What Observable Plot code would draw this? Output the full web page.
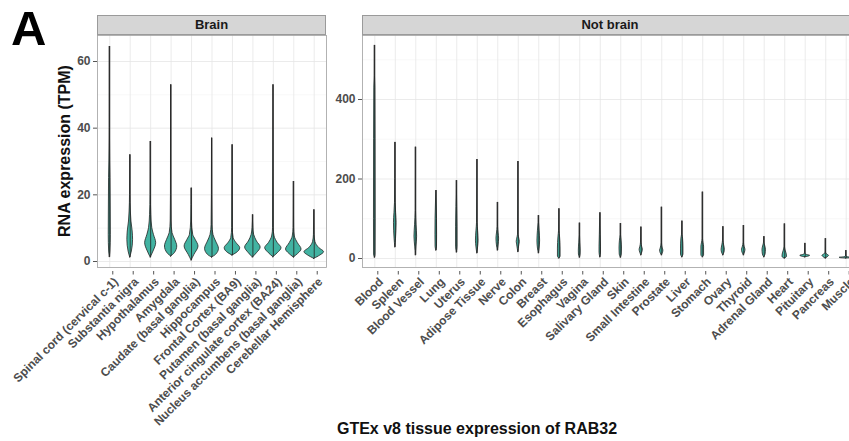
<!DOCTYPE html>
<html>
<head>
<meta charset="utf-8">
<script src="https://cdn.jsdelivr.net/npm/d3@7"></script>
<script src="https://cdn.jsdelivr.net/npm/@observablehq/plot@0.6"></script>
<style>
  html, body { margin: 0; padding: 0; background: #fff; overflow: hidden; }
  #wrap { position: relative; width: 849px; height: 441px; overflow: hidden; font-family: "Liberation Sans", Arial, sans-serif; }
  .abs { position: absolute; line-height: 1; }
  .strip { box-sizing: border-box; height: 20px; background: #d6d6d6; border: 0.8px solid #9a9a9a; font-weight: bold; font-size: 13px; color: #1a1a1a; text-align: center; line-height: 18px; }
  #letter { left: 11px; top: 4px; font-size: 49px; font-weight: bold; color: #000; }
  #ytitle { left: 65px; top: 151px; transform: translate(-50%, -50%) rotate(-90deg); white-space: nowrap; font-size: 16px; font-weight: bold; color: #111; }
  #caption { left: 477px; top: 421px; transform: translateX(-50%); white-space: nowrap; font-size: 16px; font-weight: bold; color: #111; }
  svg text { font-family: "Liberation Sans", Arial, sans-serif; font-weight: bold; fill: #4d4d4d; }
</style>
</head>
<body>
<div id="wrap">
  <div id="left" class="abs" style="left:0;top:0;"></div>
  <div id="right" class="abs" style="left:330px;top:0;"></div>
  <div class="abs strip" style="left:97px;top:15px;width:229px;">Brain</div>
  <div class="abs strip" style="left:362px;top:15px;width:496px;">Not brain</div>
  <div id="letter" class="abs">A</div>
  <div id="ytitle" class="abs">RNA expression (TPM)</div>
  <div id="caption" class="abs">GTEx v8 tissue expression of RAB32</div>
</div>
<script>
// ---- Data ----
const brainTissues = [
  "Spinal cord (cervical c-1)", "Substantia nigra", "Hypothalamus", "Amygdala",
  "Caudate (basal ganglia)", "Hippocampus", "Frontal Cortex (BA9)", "Putamen (basal ganglia)",
  "Anterior cingulate cortex (BA24)", "Nucleus accumbens (basal ganglia)", "Cerebellar Hemisphere"
];
// violin outline knots per tissue: [TPM value, half-width in category units]
const brainShapes = [
  [[1.3,0],[3,0.03],[8,0.05],[15,0.045],[25,0.035],[30,0.02],[40,0.008],[64.5,0]],
  [[1.2,0],[3,0.08],[6.5,0.14],[9,0.12],[12,0.06],[15,0.03],[20,0.01],[32,0]],
  [[1.2,0],[3,0.14],[5.5,0.27],[8,0.16],[10,0.08],[14,0.03],[20,0.01],[36,0]],
  [[1.5,0],[2.5,0.18],[4.5,0.3],[6.5,0.2],[8.5,0.07],[12,0.02],[20,0.008],[53,0]],
  [[0.3,0],[2,0.14],[4.5,0.34],[6.5,0.2],[8,0.08],[12,0.02],[22,0]],
  [[1.2,0],[2,0.2],[3.8,0.34],[6,0.2],[8,0.07],[11,0.02],[20,0.006],[37,0]],
  [[1.8,0],[2.5,0.2],[4,0.38],[5.5,0.2],[7,0.06],[10,0.015],[35,0]],
  [[1.2,0],[2.5,0.2],[4.2,0.38],[6,0.2],[8,0.06],[10,0.02],[14,0]],
  [[1.3,0],[2.5,0.22],[4,0.4],[5.5,0.22],[7.5,0.06],[10,0.015],[53,0]],
  [[1.2,0],[2.3,0.22],[3.6,0.38],[5.5,0.2],[7.5,0.05],[10,0.015],[24,0]],
  [[0.8,0],[1.8,0.3],[2.8,0.48],[4,0.25],[5.8,0.06],[8,0.015],[15.5,0]]
];
const brainTicks = [0, 20, 40, 60];
const brainMinor = [10, 30, 50];

const notBrainTissues = [
  "Blood", "Spleen", "Blood Vessel", "Lung", "Uterus", "Adipose Tissue", "Nerve", "Colon",
  "Breast", "Esophagus", "Vagina", "Salivary Gland", "Skin", "Small Intestine", "Prostate",
  "Liver", "Stomach", "Ovary", "Thyroid", "Adrenal Gland", "Heart", "Pituitary", "Pancreas", "Muscle"
];
const notBrainShapes = [
  [[2,0],[10,0.035],[100,0.04],[300,0.035],[430,0.025],[460,0.008],[536,0]],
  [[28,0],[50,0.035],[90,0.065],[115,0.04],[140,0.015],[200,0.006],[292,0]],
  [[8,0],[30,0.03],[55,0.065],[85,0.035],[120,0.01],[280,0]],
  [[20,0],[30,0.035],[60,0.04],[100,0.035],[171,0]],
  [[15,0],[30,0.035],[80,0.035],[130,0.02],[196,0]],
  [[13,0],[28,0.04],[45,0.065],[70,0.04],[90,0.012],[249,0]],
  [[20,0],[33,0.04],[50,0.065],[63,0.04],[80,0.012],[141,0]],
  [[16,0],[33,0.05],[42,0.075],[50,0.05],[60,0.012],[244,0]],
  [[13,0],[25,0.04],[45,0.065],[70,0.04],[90,0.012],[108,0]],
  [[0,0],[5,0.065],[25,0.065],[53,0.04],[70,0.01],[125,0]],
  [[2,0],[10,0.04],[20,0.045],[40,0.025],[60,0.01],[89,0]],
  [[3,0],[15,0.035],[30,0.035],[60,0.02],[115,0]],
  [[2,0],[10,0.05],[25,0.06],[45,0.04],[60,0.01],[88,0]],
  [[8,0],[15,0.05],[22,0.08],[28,0.05],[40,0.012],[79,0]],
  [[8,0],[13,0.05],[20,0.08],[25,0.05],[40,0.01],[129,0]],
  [[3,0],[10,0.06],[25,0.06],[50,0.04],[60,0.01],[94,0]],
  [[3,0],[8,0.065],[30,0.065],[38,0.04],[50,0.01],[167,0]],
  [[8,0],[15,0.06],[22,0.08],[33,0.045],[45,0.01],[80,0]],
  [[8,0],[15,0.06],[22,0.085],[28,0.05],[40,0.01],[83,0]],
  [[3,0],[10,0.065],[22,0.085],[33,0.04],[40,0.01],[55,0]],
  [[0,0],[4,0.11],[10,0.1],[20,0.045],[30,0.01],[87,0]],
  [[3,0],[5,0.18],[7,0.24],[9,0.09],[12,0.012],[38,0]],
  [[0,0],[4,0.12],[7,0.16],[10,0.07],[15,0.012],[50,0]],
  [[0,0],[1,0.28],[2,0.32],[3,0.1],[5,0.012],[20,0]]
];
const notBrainTicks = [0, 200, 400];
const notBrainMinor = [100, 300, 500];

const violinFill = "#42b3a2";

function panel({names, shapes, ticks, minor, yDomain, width, marginLeft, marginRight}) {
  const n = names.length;
  const idx = d3.range(1, n + 1);
  const rows = shapes.flatMap((knots, k) => knots.map(([v, w]) => ({i: k + 1, name: names[k], v, w})));
  const spans = shapes.map((knots, k) => ({i: k + 1, lo: knots[0][0], hi: knots[knots.length - 1][0]}));
  return Plot.plot({
    width, height: 441,
    marginLeft, marginRight, marginTop: 35, marginBottom: 174,
    x: {type: "linear", domain: [0.4, n + 0.6]},
    y: {domain: yDomain},
    style: {background: "transparent", overflow: "hidden"},
    marks: [
      Plot.gridY({ticks: minor, stroke: "#f3f3f3", strokeOpacity: 1, strokeWidth: 0.6}),
      Plot.gridY({ticks, stroke: "#e6e6e6", strokeOpacity: 1, strokeWidth: 0.8}),
      Plot.gridX({ticks: idx, stroke: "#e6e6e6", strokeOpacity: 1, strokeWidth: 0.8}),
      Plot.areaX(rows, {
        y: "v", x1: d => d.i - d.w, x2: d => d.i + d.w, z: "name",
        curve: "monotone-y", fill: violinFill, stroke: "#222", strokeWidth: 0.8
      }),
      Plot.ruleX(spans, {x: "i", y1: "lo", y2: "hi", stroke: "#222", strokeWidth: 0.8}),
      Plot.frame({stroke: "#a0a0a0", strokeWidth: 0.8}),
      Plot.axisY({ticks, tickSize: 4, tickPadding: 3, fontSize: 12, stroke: "#555", label: null}),
      Plot.axisX({ticks: idx, tickFormat: i => names[i - 1], tickRotate: -45, tickSize: 3.5, tickPadding: 1.5,
        textAnchor: "end", lineAnchor: "top",
        dx: 3, dy: 4, fontSize: 12, stroke: "#555", label: null})
    ]
  });
}

document.getElementById("left").append(panel({
  names: brainTissues, shapes: brainShapes, ticks: brainTicks, minor: brainMinor,
  yDomain: [-1.8, 67.8], width: 330, marginLeft: 97, marginRight: 4
}));
document.getElementById("right").append(panel({
  names: notBrainTissues, shapes: notBrainShapes, ticks: notBrainTicks, minor: notBrainMinor,
  yDomain: [-22.6, 561], width: 519, marginLeft: 32, marginRight: -9
}));
</script>
</body>
</html>
